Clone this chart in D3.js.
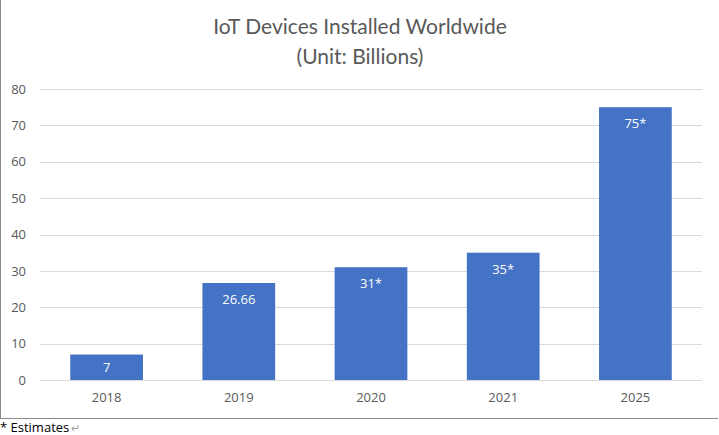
<!DOCTYPE html>
<html><head><meta charset="utf-8">
<script src="https://cdn.jsdelivr.net/npm/d3@7"></script>
<style>body{margin:0;background:#fff;}svg{display:block;font-family:"Open Sans",Lato,sans-serif;}</style>
</head><body>
<svg id="c" width="719" height="435"></svg>
<script>
const categories = ["2018","2019","2020","2021","2025"];
const values = [7, 26.66, 31, 35, 75];
const labels = ["7","26.66","31*","35*","75*"];
const yTicks = [0,10,20,30,40,50,60,70,80];
const titleLines = ["IoT Devices Installed Worldwide","(Unit: Billions)"];
const footnote = "* Estimates";

const svg = d3.select("#c");
const x = d3.scaleBand().domain(categories).range([40.5, 701.5]).paddingInner(0.45).paddingOuter(0.225);
const y = d3.scaleLinear().domain([0,80]).range([380, 89]);

// frame (left + bottom)
svg.append("line").attr("x1",0.5).attr("x2",0.5).attr("y1",0).attr("y2",418.5).attr("stroke","#898989");
svg.append("line").attr("x1",0).attr("x2",718).attr("y1",418.5).attr("y2",418.5).attr("stroke","#898989");

// title
svg.selectAll("text.title").data(titleLines).join("text").attr("class","title")
  .attr("x",360).attr("y",(d,i)=>34+i*30).attr("text-anchor","middle")
  .attr("font-family","Lato, sans-serif")
  .attr("font-size",21).attr("fill","#595959").text(d=>d);

// grid
svg.append("g").selectAll("line").data(yTicks).join("line")
  .attr("x1",40).attr("x2",702).attr("y1",d=>Math.round(y(d))+0.5).attr("y2",d=>Math.round(y(d))+0.5)
  .attr("stroke","#d9d9d9").attr("stroke-width",1);

// y axis labels
const yAxis = d3.axisLeft(y).tickValues(yTicks).tickSize(0).tickPadding(0);
const gy = svg.append("g").attr("transform","translate(26,0)").call(yAxis);
gy.select(".domain").remove();
gy.selectAll("text").attr("font-size",13).attr("fill","#595959").attr("font-family","'Open Sans',sans-serif");

// bars
svg.append("g").selectAll("rect").data(values).join("rect")
  .attr("x",(d,i)=>x(categories[i])).attr("width",x.bandwidth())
  .attr("y",d=>y(d)).attr("height",d=>y(0)-y(d)).attr("fill","#4472c4");

// x axis
const xAxis = d3.axisBottom(x).tickSize(0).tickPadding(0);
const gx = svg.append("g").attr("transform","translate(0,393)").call(xAxis);
gx.select(".domain").remove();
gx.selectAll("text").attr("font-size",13).attr("fill","#595959").attr("font-family","'Open Sans',sans-serif");

// data labels
svg.append("g").selectAll("text").data(values).join("text")
  .attr("x",(d,i)=>x(categories[i])+x.bandwidth()/2)
  .attr("y",d=>y(d)+Math.min(21,(y(0)-y(d))/2+5))
  .attr("text-anchor","middle").attr("font-size",13).attr("fill","#fff").text((d,i)=>labels[i]);

// footnote
svg.append("text").attr("x",0).attr("y",432).attr("font-size",13).attr("fill","#000").text(footnote);
svg.append("text").attr("x",71).attr("y",432).attr("font-size",11).attr("fill","#a0a0a0").text("↵");
</script>
</body></html>
